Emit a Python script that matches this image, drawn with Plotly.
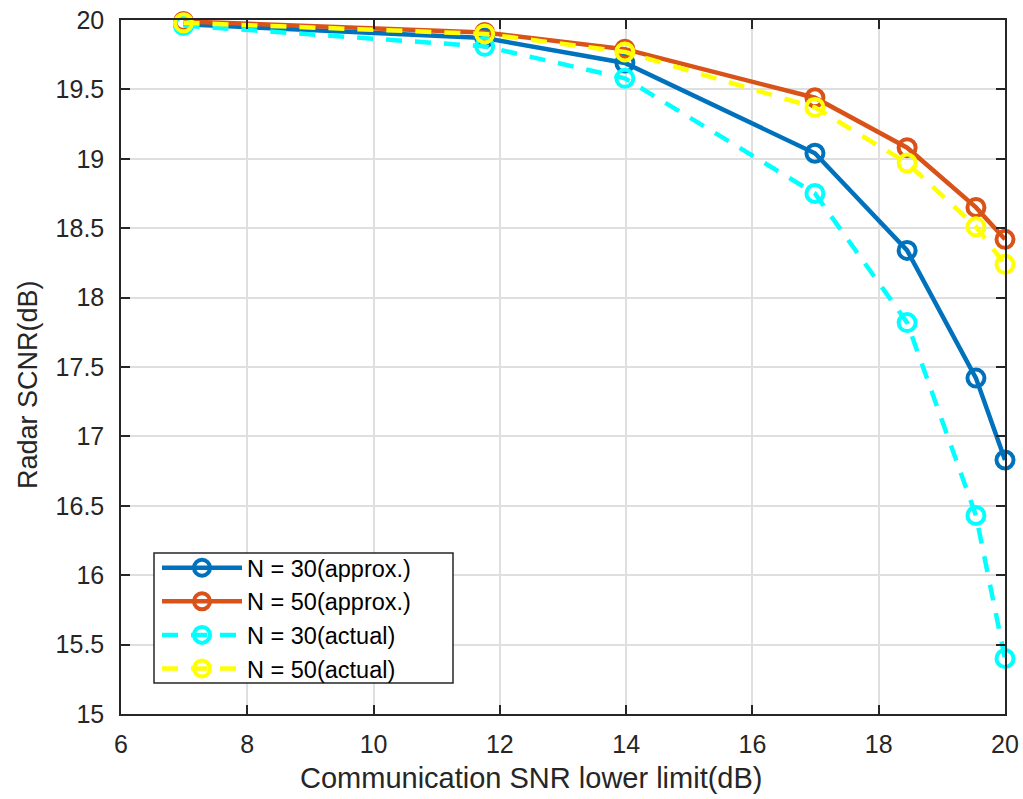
import plotly.graph_objects as go

# Communication SNR lower limit (dB)
snr_limit = [6.99, 11.76, 13.98, 16.99, 18.45, 19.54, 20.0]

# Radar SCNR (dB) for each configuration
scnr_n30_approx = [19.97, 19.87, 19.69, 19.04, 18.34, 17.42, 16.83]
scnr_n50_approx = [19.99, 19.91, 19.79, 19.44, 19.08, 18.65, 18.42]
scnr_n30_actual = [19.96, 19.81, 19.58, 18.75, 17.82, 16.43, 15.40]
scnr_n50_actual = [19.98, 19.90, 19.77, 19.37, 18.97, 18.51, 18.24]

series = [
    ("N = 30(approx.)", scnr_n30_approx, "#0072BD", "solid"),
    ("N = 50(approx.)", scnr_n50_approx, "#D95319", "solid"),
    ("N = 30(actual)", scnr_n30_actual, "#00FFFF", "16px,13px"),
    ("N = 50(actual)", scnr_n50_actual, "#FFFF00", "16px,13px"),
]

x_title = "Communication SNR lower limit(dB)"
y_title = "Radar SCNR(dB)"

FONT = "Liberation Sans, Arial, Helvetica, sans-serif"
INK = "#262626"
GRID = "#dfdfdf"

W, H = 1023, 799
ML, MR, MT, MB = 121, 18, 20, 85
PW, PH = W - ML - MR, H - MT - MB


def px_to_paper(px, py):
    return (px - ML) / PW, (H - MB - py) / PH


fig = go.Figure()
for name, values, color, dash in series:
    fig.add_trace(go.Scatter(
        x=snr_limit, y=values, name=name, mode="lines+markers",
        line=dict(color=color, width=4.5, dash=dash),
        marker=dict(symbol="circle-open", size=17, color=color,
                    line=dict(color=color, width=4)),
        cliponaxis=False,
    ))

axis_common = dict(
    showline=True, linecolor=INK, linewidth=1.5, mirror="ticks",
    ticks="inside", ticklen=9, tickwidth=1.5, tickcolor=INK,
    showgrid=True, gridcolor=GRID, gridwidth=1.5,
    zeroline=False, automargin=False,
    tickfont=dict(family=FONT, size=25, color=INK),
)

fig.update_xaxes(range=[6, 20], dtick=2, tick0=6,
                 ticklabelstandoff=7, **axis_common)
fig.update_yaxes(range=[15, 20], dtick=0.5, tick0=15,
                 ticklabelstandoff=10, **axis_common)

# Axis titles
tx, ty = px_to_paper(531, 778)
fig.add_annotation(text=x_title, xref="paper", yref="paper", x=tx, y=ty,
                   xanchor="center", yanchor="middle", showarrow=False,
                   font=dict(family=FONT, size=29, color=INK))
tx, ty = px_to_paper(28, 385)
fig.add_annotation(text=y_title, xref="paper", yref="paper", x=tx, y=ty,
                   xanchor="center", yanchor="middle", showarrow=False,
                   textangle=-90,
                   font=dict(family=FONT, size=27, color=INK))

# Legend frame (white box over the grid)
bx0, by0 = px_to_paper(154, 683)
bx1, by1 = px_to_paper(453, 553)
fig.add_shape(type="rect", xref="paper", yref="paper",
              x0=bx0, y0=by0, x1=bx1, y1=by1,
              fillcolor="white", line=dict(color=INK, width=1.5),
              layer="above")

lx, ly = px_to_paper(157, 546)
fig.update_layout(
    width=W, height=H,
    margin=dict(l=ML, r=MR, t=MT, b=MB),
    paper_bgcolor="white", plot_bgcolor="white",
    font=dict(family=FONT, color=INK),
    legend=dict(
        x=lx, y=ly, xanchor="left", yanchor="top",
        bgcolor="rgba(0,0,0,0)", borderwidth=0,
        font=dict(family=FONT, size=23.5, color="#000000"),
        itemwidth=80, tracegroupgap=0,
    ),
    showlegend=True,
)

fig.write_html("out.html")
